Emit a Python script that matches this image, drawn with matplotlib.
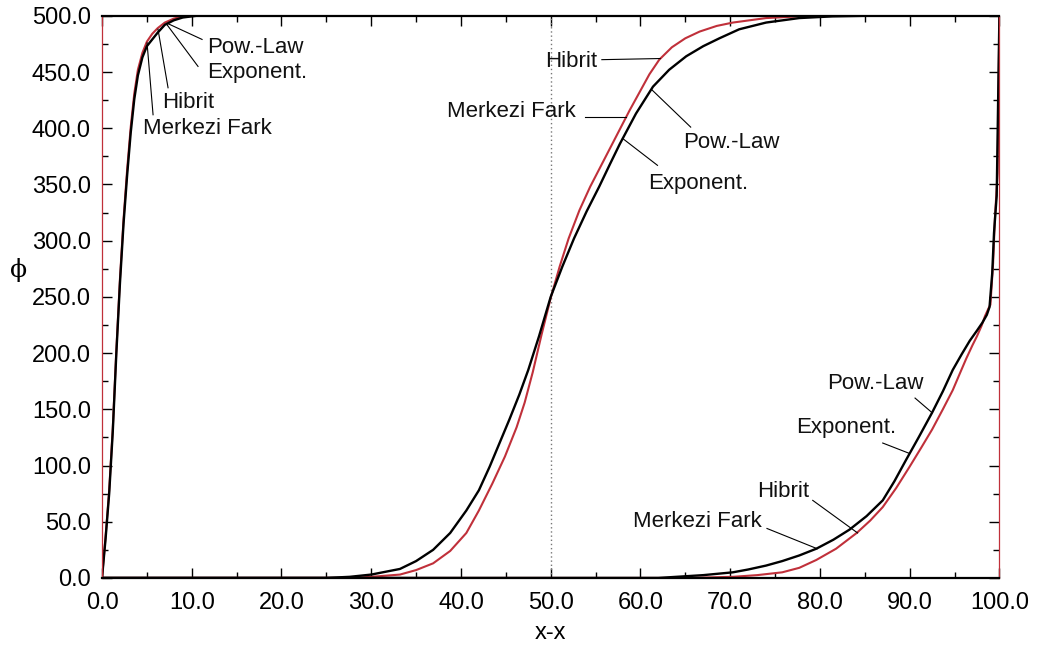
import matplotlib
matplotlib.use('Agg')
import matplotlib.pyplot as plt
from matplotlib.ticker import MultipleLocator, FormatStrFormatter

plt.rcParams['font.family'] = ['Liberation Sans', 'DejaVu Sans']

RED = '#c0303a'

# left profile (boundary layer at x=0)
left_x_black = [0, 0.4, 0.8, 1.2, 1.6, 2.0, 2.4, 2.8, 3.2, 3.6, 4.0, 4.5, 5.0, 5.6, 6.2,
                7.0, 8.0, 9.0, 10.5, 100]
left_y_black = [0, 35, 75, 130, 200, 262, 315, 358, 396, 426, 447, 463, 473, 479, 485,
                492, 496, 498.5, 500, 500]
left_x_red = [0, 0.4, 0.8, 1.2, 1.6, 2.0, 2.4, 2.8, 3.2, 3.6, 4.0, 4.5, 5.0, 5.6, 6.2,
              7.0, 8.0, 9.0, 10.5, 100]
left_y_red = [0, 37, 78, 133, 203, 266, 319, 363, 401, 431, 452, 467, 477, 484, 489,
              494, 497.5, 499.5, 500, 500]

# middle profile
mid_x_black = [0, 25, 27.6, 30, 33.2, 35, 36.9, 38.8, 40.6, 42, 43.2, 44.3, 45.4, 46.5,
               47.5, 48.7, 50, 51.3, 52.6, 54, 55.4, 56.6, 57.7, 59.5, 61.4, 63.2, 65.1,
               67, 68.8, 71, 74, 77.7, 81.4, 85, 100]
mid_y_black = [0, 0, 1, 3, 8, 15, 25, 40, 60, 78, 99, 120, 141, 163,
               185, 215, 250, 277, 302, 326, 348, 368, 386, 413, 437, 452, 464,
               473, 480, 488, 494, 498, 499.5, 500, 500]
mid_x_red = [0, 28, 30, 33.2, 35, 36.9, 38.8, 40.6, 42, 43.5, 44.9, 46.2, 47.1, 48, 49,
             50, 51, 52, 53.2, 54.4, 55.5, 56.6, 57.7, 58.8, 59.9, 61, 62.1, 63.5, 65,
             66.6, 68.5, 70.3, 74, 77.7, 80, 100]
mid_y_red = [0, 0, 1, 3, 7, 13, 24, 40, 60, 84, 108, 134, 156, 183, 217,
             249, 277, 302, 327, 348, 365, 382, 399, 416, 432, 448, 461, 472, 480,
             486, 491, 494, 498, 499.5, 500, 500]

# right profile (boundary layer at x=100)
right_x_black = [0, 62, 64, 67, 70.3, 72, 74, 75.8, 77.7, 79.6, 81.5, 83.3, 85.2, 87,
                 88.3, 89.6, 91, 92.5, 93.7, 94.8, 95.8, 96.7, 97.5, 98.1, 98.6, 98.9,
                 99.2, 99.4, 99.7, 99.85, 100]
right_y_black = [0, 0, 1, 2.5, 5, 7.5, 11, 15, 20, 26, 34, 43, 55, 69,
                 86, 105, 125, 147, 166, 185, 199, 211, 220, 227, 234, 241,
                 271, 307, 340, 420, 500]
right_x_red = [0, 65, 70.3, 73, 75.8, 77.7, 79.6, 81.8, 84.1, 85.6, 87, 88.5, 90, 91.3,
               92.5, 93.7, 94.8, 95.6, 96.3, 97, 97.5, 98, 98.4, 98.8, 99.0, 99.3,
               99.5, 99.8, 100]
right_y_red = [0, 0, 1, 2.5, 5, 9, 16, 26, 40, 51, 63, 80, 99, 116,
               132, 150, 167, 182, 195, 207, 215, 224, 233, 240, 243, 280,
               320, 360, 500]

# labels: text, text position, leader start, leader end
labels = ['Pow.-Law', 'Exponent.', 'Hibrit', 'Merkezi Fark'] * 3
text_pos = [(11.7, 472), (11.7, 450), (6.7, 423), (4.6, 400),
            (64.8, 387), (60.9, 351), (49.4, 459), (38.5, 415),
            (80.8, 173), (77.3, 134), (73.0, 77), (59.2, 50)]
lead_from = [(11.15, 479), (10.7, 455), (7.36, 436), (5.69, 412),
             (65.6, 401), (61.9, 367), (55.7, 461), (53.8, 410),
             (90.6, 160), (87.0, 120), (79.2, 69), (74.1, 44)]
lead_to = [(7.36, 493), (7.25, 492), (6.24, 488), (5.02, 476),
           (61.3, 434), (58.0, 391), (62.2, 462), (58.4, 410),
           (92.5, 147), (89.9, 111), (84.2, 40), (79.7, 26)]

fig = plt.figure(figsize=(10.57, 6.59), dpi=100)
ax = fig.add_axes([0.0965, 0.123, 0.849, 0.853])

ax.axvline(50, color='#777777', lw=1, ls=(0, (1, 2)))

for xs, ys in [(left_x_red, left_y_red), (mid_x_red, mid_y_red), (right_x_red, right_y_red)]:
    ax.plot(xs, ys, color=RED, lw=1.5)
for xs, ys in [(left_x_black, left_y_black), (mid_x_black, mid_y_black),
               (right_x_black, right_y_black)]:
    ax.plot(xs, ys, color='black', lw=1.7)

for lab, tp, lf, lt in zip(labels, text_pos, lead_from, lead_to):
    ax.plot([lf[0], lt[0]], [lf[1], lt[1]], color='black', lw=0.8)
    ax.text(tp[0], tp[1], lab, fontsize=16, ha='left', va='center', color='#111111')

ax.set_xlim(0, 100)
ax.set_ylim(0, 500)
ax.xaxis.set_major_locator(MultipleLocator(10))
ax.xaxis.set_minor_locator(MultipleLocator(5))
ax.yaxis.set_major_locator(MultipleLocator(50))
ax.yaxis.set_minor_locator(MultipleLocator(25))
ax.xaxis.set_major_formatter(FormatStrFormatter('%.1f'))
ax.yaxis.set_major_formatter(FormatStrFormatter('%.1f'))
ax.tick_params(which='both', direction='in', top=True, right=True, labelsize=17)
ax.tick_params(axis='x', which='major', length=7, width=1, pad=10)
ax.tick_params(axis='y', which='major', length=7, width=1, pad=8)
ax.tick_params(which='minor', length=4.5, width=1)

for side in ['left', 'right']:
    ax.spines[side].set_color(RED)
    ax.spines[side].set_linewidth(0.9)
for side in ['top', 'bottom']:
    ax.spines[side].set_color('black')
    ax.spines[side].set_linewidth(1.6)

ax.set_xlabel('x-x', fontsize=17, labelpad=6)
fig.text(0.009, 0.59, 'ϕ', fontsize=18, ha='left', va='center', family='DejaVu Serif')

fig.savefig('out.png', dpi=100)
